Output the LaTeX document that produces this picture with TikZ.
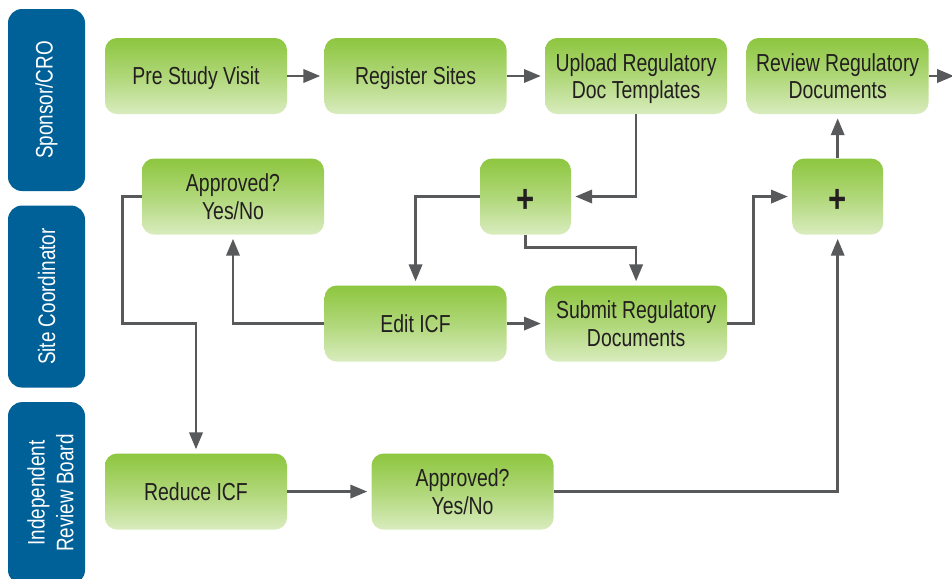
\documentclass[tikz,border=0pt]{standalone}
\usepackage{fontspec}
\setmainfont{Liberation Sans}[FakeStretch=0.79]
\usetikzlibrary{positioning,arrows.meta}
\definecolor{lanecol}{RGB}{0,96,152}
\definecolor{greentop}{RGB}{141,198,63}
\definecolor{greenbot}{RGB}{217,236,190}
\definecolor{linecol}{RGB}{88,89,91}
\definecolor{txtcol}{RGB}{35,31,32}
\begin{document}
\begin{tikzpicture}[
  font=\fontsize{17.5}{19.8}\selectfont,
  lane/.style={rectangle, rounded corners=0.35cm, fill=lanecol, text=white, minimum width=1.925cm, minimum height=4.55cm},
  lanetext/.style={rotate=90, text=white, align=center, font=\fontsize{17}{20.5}\selectfont},
  task/.style={rectangle, rounded corners=0.3cm, top color=greentop, bottom color=greenbot, middle color=greentop!55!greenbot, text=txtcol, align=center, text depth=0pt, minimum width=4.55cm, minimum height=1.9cm},
  gate/.style={task, minimum width=2.275cm, text height=0.78cm, font=\fontsize{28}{28}\selectfont\bfseries},
  flow/.style={-{Triangle[length=0.42cm,width=0.33cm]}, line width=1.9pt, linecol, shorten >=0.1cm}
]
\useasboundingbox (0,0) rectangle (23.8,-14.45);

% Swim lanes
\node[lane] (sponsor) at (1.1625,-2.5) {};
\node[lanetext] at (sponsor) {Sponsor/CRO};
\node[lane, below=0.35cm of sponsor] (site) {};
\node[lanetext] at (site) {Site Coordinator};
\node[lane, below=0.35cm of site] (irb) {};
\node[lanetext, yshift=-0.1cm] at (irb) {Independent\\Review Board};

% Sponsor/CRO tasks
\node[task] (pre) at (4.9,-1.9) {Pre Study Visit};
\node[task, right=0.925cm of pre] (reg) {Register Sites};
\node[task, right=0.95cm of reg] (upl) {Upload Regulatory\\Doc Templates};
\node[task, right=0.475cm of upl] (rev) {Review Regulatory\\Documents};
\coordinate (out) at (23.95,-1.9);

% Gates and approval
\node[task] (app1) at (5.825,-4.9125) {Approved?\\Yes/No};
\node[gate] (plus1) at (13.1375,-4.9125) {+};
\node[gate, below=1.1cm of rev] (plus2) {+};

% Site Coordinator tasks
\node[task, below=4.275cm of reg] (edit) {Edit ICF};
\node[task, right=0.95cm of edit] (sub) {Submit Regulatory\\Documents};

% Review board tasks
\node[task, below=8.475cm of pre] (red) {Reduce ICF};
\node[task, right=2.1cm of red] (app2) {Approved?\\Yes/No};

% Connectors
\draw[flow] (pre) -- (reg);
\draw[flow] (reg) -- (upl);
\draw[flow] (rev) -- (out);
\draw[flow] (upl.south) |- (plus1.east);
\draw[flow] (plus1.west) -| (edit.north);
\draw[flow] (plus1.south) -- ++(0,-0.325) -| (sub.north);
\draw[flow] (edit) -- (sub);
\draw[flow] (edit.west) -| (app1.south);
\draw[flow] (app1.west) -- ++(-0.475,0) |- (red.north |- edit.west) -- (red.north);
\draw[flow] (sub.east) -- ++(0.65,0) |- (plus2.west);
\draw[flow] (plus2) -- (rev);
\draw[flow] (red) -- (app2);
\draw[flow] (app2.east) -| (plus2.south);

\end{tikzpicture}
\end{document}
